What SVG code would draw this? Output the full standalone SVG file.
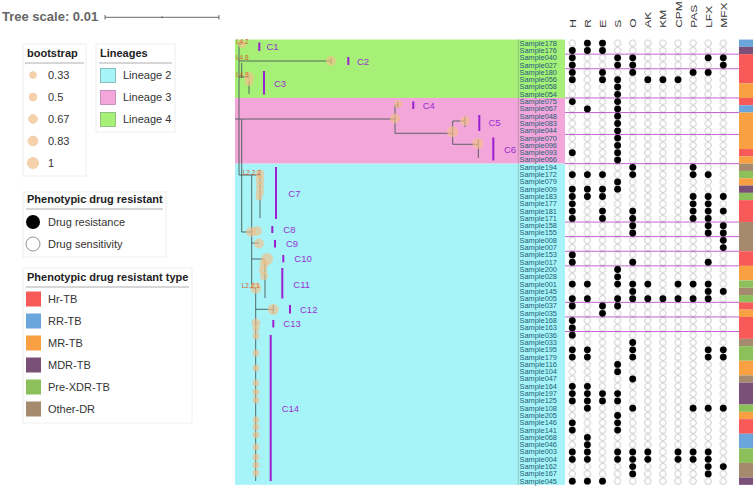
<svg xmlns="http://www.w3.org/2000/svg" xmlns:xlink="http://www.w3.org/1999/xlink" width="753" height="486" viewBox="0 0 753 486">
<style>
text{font-family:"Liberation Sans",Arial,sans-serif}
.lt{font-size:11px;font-weight:bold;fill:#222}
.li{font-size:11px;fill:#333}
.box{fill:#fff;stroke:#eeeeee;stroke-width:1}
.ul{stroke:#999;stroke-width:0.8}
.sl{font-size:6.5px;fill:#1e5f78;text-anchor:end}
.hd{font-size:12px;fill:#333}
.cl{font-size:9.5px;fill:#9a30d0}
.bar{stroke:#9b1fd1;stroke-width:2}
.bs{fill:#f3c089;opacity:0.65}
.ll{font-size:6.5px;fill:#d4602a}
.sep{stroke:#b03cc0;stroke-width:0.8}
</style>
<defs>
<circle id="d" r="3.4" fill="#000"/>
<pattern id="emp" patternUnits="userSpaceOnUse" x="564.75" y="39.55" width="15.1" height="7.3"><circle cx="7.55" cy="3.65" r="3.2" fill="#fff" stroke="#aaa" stroke-width="0.6"/></pattern>
</defs>
<rect width="753" height="486" fill="#fff"/>

<g id="tree-scale">
<text x="2" y="21" style="font-size:13px;font-weight:bold;fill:#666">Tree scale: 0.01</text>
<path d="M105,17.3 H219 M105,15 V19.6 M219,15 V19.6 M162,16.3 V18.3" stroke="#444" stroke-width="0.8" fill="none"/>
</g>

<g id="legend-bootstrap">
<rect class="box" x="23" y="44" width="63" height="132"/>
<text class="lt" x="27" y="57">bootstrap</text>
<line class="ul" x1="25" y1="63" x2="84" y2="63"/>
<g fill="#f5d2ac" stroke="#ebc59c" stroke-width="0.6">
<circle cx="33" cy="75" r="3.4"/><circle cx="33" cy="97" r="3.9"/><circle cx="33" cy="119" r="4.4"/><circle cx="33" cy="141" r="4.9"/><circle cx="33" cy="163" r="5.6"/>
</g>
<text class="li" x="48" y="79">0.33</text><text class="li" x="48" y="101">0.5</text><text class="li" x="48" y="123">0.67</text><text class="li" x="48" y="145">0.83</text><text class="li" x="48" y="167">1</text>
</g>

<g id="legend-lineages">
<rect class="box" x="96" y="44" width="79" height="88"/>
<text class="lt" x="100" y="57">Lineages</text>
<line class="ul" x1="99" y1="63" x2="172" y2="63"/>
<rect x="100.5" y="68.5" width="15" height="14" fill="#a6f4f8" stroke="#6aa" stroke-width="0.7"/>
<rect x="100.5" y="90.5" width="15" height="14" fill="#f2a6da" stroke="#a7a" stroke-width="0.7"/>
<rect x="100.5" y="112.5" width="15" height="14" fill="#a6f078" stroke="#7a6" stroke-width="0.7"/>
<text class="li" x="123" y="79">Lineage 2</text><text class="li" x="123" y="101">Lineage 3</text><text class="li" x="123" y="123">Lineage 4</text>
</g>

<g id="legend-phenotype">
<rect class="box" x="23" y="192" width="143" height="65"/>
<text class="lt" x="27" y="203">Phenotypic drug resistant</text>
<line class="ul" x1="26" y1="209" x2="163" y2="209"/>
<circle cx="33" cy="222" r="7" fill="#000"/>
<circle cx="33" cy="244" r="7" fill="#fff" stroke="#666" stroke-width="0.7"/>
<text class="li" x="48" y="226">Drug resistance</text><text class="li" x="48" y="248">Drug sensitivity</text>
</g>

<g id="legend-type">
<rect class="box" x="23" y="268" width="169" height="155"/>
<text class="lt" x="27" y="281">Phenotypic drug resistant type</text>
<line class="ul" x1="26" y1="287" x2="189" y2="287"/>
<rect x="26" y="291.5" width="15" height="15" fill="#f85a5a"/>
<rect x="26" y="313.5" width="15" height="15" fill="#6aa6dc"/>
<rect x="26" y="335.5" width="15" height="15" fill="#f9a043"/>
<rect x="26" y="357.5" width="15" height="15" fill="#7a5078"/>
<rect x="26" y="379.5" width="15" height="15" fill="#8cc05a"/>
<rect x="26" y="401.5" width="15" height="15" fill="#a58a6e"/>
<text class="li" x="48" y="303">Hr-TB</text><text class="li" x="48" y="325">RR-TB</text><text class="li" x="48" y="347">MR-TB</text><text class="li" x="48" y="369">MDR-TB</text><text class="li" x="48" y="391">Pre-XDR-TB</text><text class="li" x="48" y="413">Other-DR</text>
</g>

<g id="lineage-bands">
<rect x="235" y="39.55" width="330" height="58.4" fill="#a6f078"/>
<rect x="235" y="97.95" width="330" height="65.7" fill="#f2a6da"/>
<rect x="235" y="163.65" width="330" height="321.2" fill="#a6f4f8"/>
<line x1="518.3" y1="39.55" x2="518.3" y2="484.85" stroke="#557777" stroke-width="0.7" stroke-dasharray="1,1"/>
</g>

<g id="connectors" fill="none" stroke="#4a5a5a" stroke-width="0.9">
<path d="M239,44 V175 H251.7"/>
<path d="M239,44 H242"/>
<path d="M239,61 H331 M331,58 V64"/>
<path d="M241.7,63 V78"/>
<path d="M239,77 H249 V94"/>
<path d="M235,119 H395"/>
<path d="M395,105 V133.3 M395,105 H398 M398,102 V108"/>
<path d="M395,133.3 H452.7 M452.7,121 V144.3 M452.7,121 H465 M465,116 V127 M452.7,144.3 H478.3 M478.3,139 V158"/>
<path d="M241.7,119 V232 H252"/>
<path d="M251.7,175 V288 H255.7"/>
<path d="M251.7,175 H260 M260,173 V218"/>
<path d="M251.7,243 H259"/>
<path d="M251.7,259 H265 M265,260 V298"/>
<path d="M255.7,288 V481"/>
<path d="M255.7,309.3 H273.3 M273.3,305 V313.5"/>
<path d="M255.7,323 H257"/>
</g>

<g id="bootstrap-nodes">
<circle class="bs" cx="242" cy="44" r="4"/><circle class="bs" cx="331" cy="61" r="5"/><circle class="bs" cx="249" cy="77" r="5"/><circle class="bs" cx="249" cy="82" r="4"/>
<circle class="bs" cx="398" cy="104" r="4"/><circle class="bs" cx="395" cy="118.5" r="5"/><circle class="bs" cx="452.7" cy="131.7" r="5.5"/><circle class="bs" cx="465" cy="121" r="5"/><circle class="bs" cx="478" cy="143.5" r="5.5"/>
<circle class="bs" cx="260" cy="174" r="4.5"/><circle class="bs" cx="260" cy="180" r="4.5"/><circle class="bs" cx="260" cy="186" r="4"/><circle class="bs" cx="260" cy="192" r="4"/><circle class="bs" cx="259" cy="197" r="3.5"/>
<circle class="bs" cx="251" cy="232" r="5"/><circle class="bs" cx="257" cy="231" r="5"/><circle class="bs" cx="259" cy="243.5" r="5"/><circle class="bs" cx="267" cy="259" r="6"/><circle class="bs" cx="264" cy="264" r="4.5"/><circle class="bs" cx="263" cy="270" r="4"/><circle class="bs" cx="264" cy="276" r="4"/>
<circle class="bs" cx="255.7" cy="288" r="5.5"/><circle class="bs" cx="273.3" cy="309.3" r="5.5"/><circle class="bs" cx="256" cy="323" r="4.5"/><circle class="bs" cx="256" cy="329" r="3.5"/>
<circle class="bs" cx="256" cy="336" r="3.5"/><circle class="bs" cx="256" cy="353" r="3.5"/><circle class="bs" cx="256" cy="368" r="3.5"/><circle class="bs" cx="256" cy="383" r="3.5"/><circle class="bs" cx="256" cy="392" r="3.5"/><circle class="bs" cx="256" cy="400" r="3.5"/><circle class="bs" cx="256" cy="420" r="3.5"/><circle class="bs" cx="256" cy="427" r="3.5"/><circle class="bs" cx="256" cy="435" r="3.5"/><circle class="bs" cx="256" cy="447" r="3.5"/><circle class="bs" cx="256" cy="457" r="3.5"/><circle class="bs" cx="256" cy="465" r="3.5"/><circle class="bs" cx="256" cy="473" r="3.5"/>
</g>

<g id="lineage-labels">
<text class="ll" x="236" y="44">L4.2</text><text class="ll" x="236" y="59.7">L4.8</text><text class="ll" x="236" y="77">L4.9</text><text class="ll" x="242.7" y="175">L2.2.2</text><text class="ll" x="241.7" y="287.7">L2.2.1</text>
</g>

<g id="clade-C1"><line class="bar" x1="259.3" y1="42.5" x2="259.3" y2="51"/><text class="cl" x="266.5" y="50.2">C1</text></g>
<g id="clade-C2"><line class="bar" x1="348.3" y1="57" x2="348.3" y2="65"/><text class="cl" x="357" y="64.8">C2</text></g>
<g id="clade-C3"><line class="bar" x1="264" y1="71" x2="264" y2="94.5"/><text class="cl" x="274" y="86.5">C3</text></g>
<g id="clade-C4"><line class="bar" x1="413.3" y1="101.5" x2="413.3" y2="109"/><text class="cl" x="422.7" y="108.6">C4</text></g>
<g id="clade-C5"><line class="bar" x1="479.3" y1="115" x2="479.3" y2="131"/><text class="cl" x="488.5" y="126">C5</text></g>
<g id="clade-C6"><line class="bar" x1="493.3" y1="137.5" x2="493.3" y2="160.5"/><text class="cl" x="504" y="152.5">C6</text></g>
<g id="clade-C7"><line class="bar" x1="276" y1="167" x2="276" y2="219"/><text class="cl" x="288.3" y="196.5">C7</text></g>
<g id="clade-C8"><line class="bar" x1="272.3" y1="226" x2="272.3" y2="233"/><text class="cl" x="283.3" y="233">C8</text></g>
<g id="clade-C9"><line class="bar" x1="275" y1="240" x2="275" y2="247.5"/><text class="cl" x="286" y="247.3">C9</text></g>
<g id="clade-C10"><line class="bar" x1="283.3" y1="255" x2="283.3" y2="262.3"/><text class="cl" x="294.3" y="262">C10</text></g>
<g id="clade-C11"><line class="bar" x1="282.3" y1="268" x2="282.3" y2="298.5"/><text class="cl" x="293.3" y="287.5">C11</text></g>
<g id="clade-C12"><line class="bar" x1="290" y1="305" x2="290" y2="313.5"/><text class="cl" x="300" y="312.8">C12</text></g>
<g id="clade-C13"><line class="bar" x1="273.3" y1="320" x2="273.3" y2="327.5"/><text class="cl" x="283.3" y="327.4">C13</text></g>
<g id="clade-C14"><line class="bar" x1="270.7" y1="335" x2="270.7" y2="481"/><text class="cl" x="281.7" y="411.5">C14</text></g>

<g id="headers">
<text class="hd" transform="translate(575.8,27.8) rotate(-90) scale(1,0.82)">H</text>
<text class="hd" transform="translate(590.9,27.8) rotate(-90) scale(1,0.82)">R</text>
<text class="hd" transform="translate(606,27.8) rotate(-90) scale(1,0.82)">E</text>
<text class="hd" transform="translate(621.1,27.8) rotate(-90) scale(1,0.82)">S</text>
<text class="hd" transform="translate(636.2,27.8) rotate(-90) scale(1,0.82)">O</text>
<text class="hd" transform="translate(651.3,27.8) rotate(-90) scale(1,0.82)">AK</text>
<text class="hd" transform="translate(666.4,27.8) rotate(-90) scale(1,0.82)">KM</text>
<text class="hd" transform="translate(681.5,27.8) rotate(-90) scale(1,0.82)">CPM</text>
<text class="hd" transform="translate(696.6,27.8) rotate(-90) scale(1,0.82)">PAS</text>
<text class="hd" transform="translate(711.7,27.8) rotate(-90) scale(1,0.82)">LFX</text>
<text class="hd" transform="translate(726.8,27.8) rotate(-90) scale(1,0.82)">MFX</text>
</g>

<g id="dot-grid"><rect x="564.75" y="39.55" width="166.1" height="445.3" fill="url(#emp)"/></g>

<g id="separators">
<path class="sep" d="M565,54.15 H739 M565,68.75 H739 M565,97.95 H739 M565,112.55 H739 M565,134.45 H739 M565,163.65 H739 M565,222.05 H739 M565,236.65 H739 M565,251.25 H739 M565,265.85 H739 M565,302.35 H739 M565,316.95 H739 M565,331.55 H739"/>
</g>

<g id="type-strip">
<rect x="739" y="39.55" width="14" height="7.3" fill="#6aa6dc"/>
<rect x="739" y="46.85" width="14" height="7.3" fill="#7a5078"/>
<rect x="739" y="54.15" width="14" height="29.2" fill="#f85a5a"/>
<rect x="739" y="83.35" width="14" height="14.6" fill="#f9a043"/>
<rect x="739" y="97.95" width="14" height="7.3" fill="#f85a5a"/>
<rect x="739" y="105.25" width="14" height="7.3" fill="#6aa6dc"/>
<rect x="739" y="112.55" width="14" height="36.5" fill="#f9a043"/>
<rect x="739" y="149.05" width="14" height="7.3" fill="#f85a5a"/>
<rect x="739" y="156.35" width="14" height="7.3" fill="#f9a043"/>
<rect x="739" y="163.65" width="14" height="7.3" fill="#a58a6e"/>
<rect x="739" y="170.95" width="14" height="7.3" fill="#8cc05a"/>
<rect x="739" y="178.25" width="14" height="7.3" fill="#f9a043"/>
<rect x="739" y="185.55" width="14" height="7.3" fill="#7a5078"/>
<rect x="739" y="192.85" width="14" height="7.3" fill="#8cc05a"/>
<rect x="739" y="200.15" width="14" height="21.9" fill="#f85a5a"/>
<rect x="739" y="222.05" width="14" height="29.2" fill="#a58a6e"/>
<rect x="739" y="251.25" width="14" height="14.6" fill="#f85a5a"/>
<rect x="739" y="265.85" width="14" height="14.6" fill="#f9a043"/>
<rect x="739" y="280.45" width="14" height="7.3" fill="#8cc05a"/>
<rect x="739" y="287.75" width="14" height="7.3" fill="#a58a6e"/>
<rect x="739" y="295.05" width="14" height="7.3" fill="#8cc05a"/>
<rect x="739" y="302.35" width="14" height="7.3" fill="#f85a5a"/>
<rect x="739" y="309.65" width="14" height="7.3" fill="#f9a043"/>
<rect x="739" y="316.95" width="14" height="21.9" fill="#f85a5a"/>
<rect x="739" y="338.85" width="14" height="7.3" fill="#a58a6e"/>
<rect x="739" y="346.15" width="14" height="14.6" fill="#8cc05a"/>
<rect x="739" y="360.75" width="14" height="14.6" fill="#f9a043"/>
<rect x="739" y="375.35" width="14" height="7.3" fill="#a58a6e"/>
<rect x="739" y="382.65" width="14" height="21.9" fill="#7a5078"/>
<rect x="739" y="404.55" width="14" height="7.3" fill="#8cc05a"/>
<rect x="739" y="411.85" width="14" height="7.3" fill="#f9a043"/>
<rect x="739" y="419.15" width="14" height="14.6" fill="#f85a5a"/>
<rect x="739" y="433.75" width="14" height="14.6" fill="#6aa6dc"/>
<rect x="739" y="448.35" width="14" height="14.6" fill="#8cc05a"/>
<rect x="739" y="462.95" width="14" height="14.6" fill="#a58a6e"/>
<rect x="739" y="477.55" width="14" height="7.3" fill="#7a5078"/>
</g>

<g id="samples">
<g id="row-Sample178"><text class="sl" x="557" y="45.6" textLength="37.5" lengthAdjust="spacingAndGlyphs">Sample178</text><use href="#d" x="587.4" y="43.2"/><use href="#d" x="602.5" y="43.2"/></g>
<g id="row-Sample176"><text class="sl" x="557" y="52.9" textLength="37.5" lengthAdjust="spacingAndGlyphs">Sample176</text><use href="#d" x="572.3" y="50.5"/><use href="#d" x="587.4" y="50.5"/><use href="#d" x="602.5" y="50.5"/></g>
<g id="row-Sample040"><text class="sl" x="557" y="60.2" textLength="37.5" lengthAdjust="spacingAndGlyphs">Sample040</text><use href="#d" x="572.3" y="57.8"/><use href="#d" x="617.6" y="57.8"/><use href="#d" x="632.7" y="57.8"/><use href="#d" x="708.2" y="57.8"/><use href="#d" x="723.3" y="57.8"/></g>
<g id="row-Sample027"><text class="sl" x="557" y="67.5" textLength="37.5" lengthAdjust="spacingAndGlyphs">Sample027</text><use href="#d" x="572.3" y="65.1"/><use href="#d" x="617.6" y="65.1"/><use href="#d" x="632.7" y="65.1"/><use href="#d" x="723.3" y="65.1"/></g>
<g id="row-Sample180"><text class="sl" x="557" y="74.8" textLength="37.5" lengthAdjust="spacingAndGlyphs">Sample180</text><use href="#d" x="572.3" y="72.4"/><use href="#d" x="602.5" y="72.4"/><use href="#d" x="632.7" y="72.4"/><use href="#d" x="693.1" y="72.4"/><use href="#d" x="708.2" y="72.4"/></g>
<g id="row-Sample056"><text class="sl" x="557" y="82.1" textLength="37.5" lengthAdjust="spacingAndGlyphs">Sample056</text><use href="#d" x="572.3" y="79.7"/><use href="#d" x="602.5" y="79.7"/><use href="#d" x="617.6" y="79.7"/><use href="#d" x="647.8" y="79.7"/><use href="#d" x="662.9" y="79.7"/><use href="#d" x="678" y="79.7"/></g>
<g id="row-Sample058"><text class="sl" x="557" y="89.4" textLength="37.5" lengthAdjust="spacingAndGlyphs">Sample058</text><use href="#d" x="617.6" y="87"/></g>
<g id="row-Sample054"><text class="sl" x="557" y="96.7" textLength="37.5" lengthAdjust="spacingAndGlyphs">Sample054</text><use href="#d" x="617.6" y="94.3"/></g>
<g id="row-Sample075"><text class="sl" x="557" y="104" textLength="37.5" lengthAdjust="spacingAndGlyphs">Sample075</text><use href="#d" x="572.3" y="101.6"/><use href="#d" x="617.6" y="101.6"/></g>
<g id="row-Sample067"><text class="sl" x="557" y="111.3" textLength="37.5" lengthAdjust="spacingAndGlyphs">Sample067</text><use href="#d" x="587.4" y="108.9"/><use href="#d" x="617.6" y="108.9"/></g>
<g id="row-Sample048"><text class="sl" x="557" y="118.6" textLength="37.5" lengthAdjust="spacingAndGlyphs">Sample048</text><use href="#d" x="617.6" y="116.2"/></g>
<g id="row-Sample083"><text class="sl" x="557" y="125.9" textLength="37.5" lengthAdjust="spacingAndGlyphs">Sample083</text><use href="#d" x="617.6" y="123.5"/></g>
<g id="row-Sample044"><text class="sl" x="557" y="133.2" textLength="37.5" lengthAdjust="spacingAndGlyphs">Sample044</text><use href="#d" x="617.6" y="130.8"/></g>
<g id="row-Sample070"><text class="sl" x="557" y="140.5" textLength="37.5" lengthAdjust="spacingAndGlyphs">Sample070</text><use href="#d" x="617.6" y="138.1"/></g>
<g id="row-Sample096"><text class="sl" x="557" y="147.8" textLength="37.5" lengthAdjust="spacingAndGlyphs">Sample096</text><use href="#d" x="617.6" y="145.4"/></g>
<g id="row-Sample093"><text class="sl" x="557" y="155.1" textLength="37.5" lengthAdjust="spacingAndGlyphs">Sample093</text><use href="#d" x="572.3" y="152.7"/><use href="#d" x="617.6" y="152.7"/></g>
<g id="row-Sample066"><text class="sl" x="557" y="162.4" textLength="37.5" lengthAdjust="spacingAndGlyphs">Sample066</text><use href="#d" x="617.6" y="160"/></g>
<g id="row-Sample194"><text class="sl" x="557" y="169.7" textLength="37.5" lengthAdjust="spacingAndGlyphs">Sample194</text><use href="#d" x="632.7" y="167.3"/><use href="#d" x="693.1" y="167.3"/></g>
<g id="row-Sample172"><text class="sl" x="557" y="177" textLength="37.5" lengthAdjust="spacingAndGlyphs">Sample172</text><use href="#d" x="572.3" y="174.6"/><use href="#d" x="587.4" y="174.6"/><use href="#d" x="602.5" y="174.6"/><use href="#d" x="632.7" y="174.6"/><use href="#d" x="693.1" y="174.6"/><use href="#d" x="708.2" y="174.6"/></g>
<g id="row-Sample079"><text class="sl" x="557" y="184.3" textLength="37.5" lengthAdjust="spacingAndGlyphs">Sample079</text><use href="#d" x="617.6" y="181.9"/></g>
<g id="row-Sample009"><text class="sl" x="557" y="191.6" textLength="37.5" lengthAdjust="spacingAndGlyphs">Sample009</text><use href="#d" x="572.3" y="189.2"/><use href="#d" x="587.4" y="189.2"/><use href="#d" x="602.5" y="189.2"/><use href="#d" x="617.6" y="189.2"/></g>
<g id="row-Sample183"><text class="sl" x="557" y="198.9" textLength="37.5" lengthAdjust="spacingAndGlyphs">Sample183</text><use href="#d" x="572.3" y="196.5"/><use href="#d" x="587.4" y="196.5"/><use href="#d" x="602.5" y="196.5"/><use href="#d" x="693.1" y="196.5"/><use href="#d" x="708.2" y="196.5"/><use href="#d" x="723.3" y="196.5"/></g>
<g id="row-Sample177"><text class="sl" x="557" y="206.2" textLength="37.5" lengthAdjust="spacingAndGlyphs">Sample177</text><use href="#d" x="572.3" y="203.8"/><use href="#d" x="693.1" y="203.8"/><use href="#d" x="708.2" y="203.8"/></g>
<g id="row-Sample181"><text class="sl" x="557" y="213.5" textLength="37.5" lengthAdjust="spacingAndGlyphs">Sample181</text><use href="#d" x="572.3" y="211.1"/><use href="#d" x="602.5" y="211.1"/><use href="#d" x="632.7" y="211.1"/><use href="#d" x="693.1" y="211.1"/><use href="#d" x="708.2" y="211.1"/><use href="#d" x="723.3" y="211.1"/></g>
<g id="row-Sample171"><text class="sl" x="557" y="220.8" textLength="37.5" lengthAdjust="spacingAndGlyphs">Sample171</text><use href="#d" x="572.3" y="218.4"/><use href="#d" x="602.5" y="218.4"/><use href="#d" x="632.7" y="218.4"/><use href="#d" x="693.1" y="218.4"/><use href="#d" x="708.2" y="218.4"/></g>
<g id="row-Sample158"><text class="sl" x="557" y="228.1" textLength="37.5" lengthAdjust="spacingAndGlyphs">Sample158</text><use href="#d" x="632.7" y="225.7"/><use href="#d" x="708.2" y="225.7"/><use href="#d" x="723.3" y="225.7"/></g>
<g id="row-Sample155"><text class="sl" x="557" y="235.4" textLength="37.5" lengthAdjust="spacingAndGlyphs">Sample155</text><use href="#d" x="632.7" y="233"/><use href="#d" x="708.2" y="233"/><use href="#d" x="723.3" y="233"/></g>
<g id="row-Sample008"><text class="sl" x="557" y="242.7" textLength="37.5" lengthAdjust="spacingAndGlyphs">Sample008</text><use href="#d" x="723.3" y="240.3"/></g>
<g id="row-Sample007"><text class="sl" x="557" y="250" textLength="37.5" lengthAdjust="spacingAndGlyphs">Sample007</text><use href="#d" x="723.3" y="247.6"/></g>
<g id="row-Sample153"><text class="sl" x="557" y="257.3" textLength="37.5" lengthAdjust="spacingAndGlyphs">Sample153</text><use href="#d" x="572.3" y="254.9"/></g>
<g id="row-Sample017"><text class="sl" x="557" y="264.6" textLength="37.5" lengthAdjust="spacingAndGlyphs">Sample017</text><use href="#d" x="572.3" y="262.2"/><use href="#d" x="632.7" y="262.2"/><use href="#d" x="708.2" y="262.2"/></g>
<g id="row-Sample200"><text class="sl" x="557" y="271.9" textLength="37.5" lengthAdjust="spacingAndGlyphs">Sample200</text><use href="#d" x="617.6" y="269.5"/></g>
<g id="row-Sample028"><text class="sl" x="557" y="279.2" textLength="37.5" lengthAdjust="spacingAndGlyphs">Sample028</text><use href="#d" x="617.6" y="276.8"/></g>
<g id="row-Sample001"><text class="sl" x="557" y="286.5" textLength="37.5" lengthAdjust="spacingAndGlyphs">Sample001</text><use href="#d" x="572.3" y="284.1"/><use href="#d" x="587.4" y="284.1"/><use href="#d" x="617.6" y="284.1"/><use href="#d" x="632.7" y="284.1"/><use href="#d" x="647.8" y="284.1"/><use href="#d" x="678" y="284.1"/><use href="#d" x="693.1" y="284.1"/><use href="#d" x="708.2" y="284.1"/></g>
<g id="row-Sample145"><text class="sl" x="557" y="293.8" textLength="37.5" lengthAdjust="spacingAndGlyphs">Sample145</text><use href="#d" x="632.7" y="291.4"/><use href="#d" x="708.2" y="291.4"/><use href="#d" x="723.3" y="291.4"/></g>
<g id="row-Sample005"><text class="sl" x="557" y="301.1" textLength="37.5" lengthAdjust="spacingAndGlyphs">Sample005</text><use href="#d" x="572.3" y="298.7"/><use href="#d" x="587.4" y="298.7"/><use href="#d" x="617.6" y="298.7"/><use href="#d" x="632.7" y="298.7"/><use href="#d" x="647.8" y="298.7"/><use href="#d" x="662.9" y="298.7"/><use href="#d" x="678" y="298.7"/><use href="#d" x="693.1" y="298.7"/><use href="#d" x="708.2" y="298.7"/></g>
<g id="row-Sample037"><text class="sl" x="557" y="308.4" textLength="37.5" lengthAdjust="spacingAndGlyphs">Sample037</text><use href="#d" x="572.3" y="306"/><use href="#d" x="602.5" y="306"/><use href="#d" x="617.6" y="306"/></g>
<g id="row-Sample035"><text class="sl" x="557" y="315.7" textLength="37.5" lengthAdjust="spacingAndGlyphs">Sample035</text><use href="#d" x="602.5" y="313.3"/></g>
<g id="row-Sample168"><text class="sl" x="557" y="323" textLength="37.5" lengthAdjust="spacingAndGlyphs">Sample168</text><use href="#d" x="572.3" y="320.6"/></g>
<g id="row-Sample163"><text class="sl" x="557" y="330.3" textLength="37.5" lengthAdjust="spacingAndGlyphs">Sample163</text><use href="#d" x="572.3" y="327.9"/></g>
<g id="row-Sample036"><text class="sl" x="557" y="337.6" textLength="37.5" lengthAdjust="spacingAndGlyphs">Sample036</text><use href="#d" x="572.3" y="335.2"/></g>
<g id="row-Sample033"><text class="sl" x="557" y="344.9" textLength="37.5" lengthAdjust="spacingAndGlyphs">Sample033</text><use href="#d" x="632.7" y="342.5"/></g>
<g id="row-Sample195"><text class="sl" x="557" y="352.2" textLength="37.5" lengthAdjust="spacingAndGlyphs">Sample195</text><use href="#d" x="572.3" y="349.8"/><use href="#d" x="587.4" y="349.8"/><use href="#d" x="632.7" y="349.8"/><use href="#d" x="708.2" y="349.8"/><use href="#d" x="723.3" y="349.8"/></g>
<g id="row-Sample179"><text class="sl" x="557" y="359.5" textLength="37.5" lengthAdjust="spacingAndGlyphs">Sample179</text><use href="#d" x="572.3" y="357.1"/><use href="#d" x="587.4" y="357.1"/><use href="#d" x="632.7" y="357.1"/><use href="#d" x="708.2" y="357.1"/><use href="#d" x="723.3" y="357.1"/></g>
<g id="row-Sample116"><text class="sl" x="557" y="366.8" textLength="37.5" lengthAdjust="spacingAndGlyphs">Sample116</text><use href="#d" x="617.6" y="364.4"/></g>
<g id="row-Sample104"><text class="sl" x="557" y="374.1" textLength="37.5" lengthAdjust="spacingAndGlyphs">Sample104</text><use href="#d" x="617.6" y="371.7"/></g>
<g id="row-Sample047"><text class="sl" x="557" y="381.4" textLength="37.5" lengthAdjust="spacingAndGlyphs">Sample047</text><use href="#d" x="632.7" y="379"/></g>
<g id="row-Sample164"><text class="sl" x="557" y="388.7" textLength="37.5" lengthAdjust="spacingAndGlyphs">Sample164</text><use href="#d" x="572.3" y="386.3"/><use href="#d" x="587.4" y="386.3"/></g>
<g id="row-Sample197"><text class="sl" x="557" y="396" textLength="37.5" lengthAdjust="spacingAndGlyphs">Sample197</text><use href="#d" x="572.3" y="393.6"/><use href="#d" x="587.4" y="393.6"/><use href="#d" x="602.5" y="393.6"/><use href="#d" x="617.6" y="393.6"/></g>
<g id="row-Sample125"><text class="sl" x="557" y="403.3" textLength="37.5" lengthAdjust="spacingAndGlyphs">Sample125</text><use href="#d" x="572.3" y="400.9"/><use href="#d" x="587.4" y="400.9"/><use href="#d" x="602.5" y="400.9"/><use href="#d" x="617.6" y="400.9"/></g>
<g id="row-Sample108"><text class="sl" x="557" y="410.6" textLength="37.5" lengthAdjust="spacingAndGlyphs">Sample108</text><use href="#d" x="587.4" y="408.2"/><use href="#d" x="632.7" y="408.2"/><use href="#d" x="693.1" y="408.2"/><use href="#d" x="708.2" y="408.2"/><use href="#d" x="723.3" y="408.2"/></g>
<g id="row-Sample205"><text class="sl" x="557" y="417.9" textLength="37.5" lengthAdjust="spacingAndGlyphs">Sample205</text><use href="#d" x="617.6" y="415.5"/></g>
<g id="row-Sample146"><text class="sl" x="557" y="425.2" textLength="37.5" lengthAdjust="spacingAndGlyphs">Sample146</text><use href="#d" x="572.3" y="422.8"/><use href="#d" x="617.6" y="422.8"/></g>
<g id="row-Sample141"><text class="sl" x="557" y="432.5" textLength="37.5" lengthAdjust="spacingAndGlyphs">Sample141</text><use href="#d" x="572.3" y="430.1"/><use href="#d" x="617.6" y="430.1"/></g>
<g id="row-Sample068"><text class="sl" x="557" y="439.8" textLength="37.5" lengthAdjust="spacingAndGlyphs">Sample068</text><use href="#d" x="587.4" y="437.4"/></g>
<g id="row-Sample046"><text class="sl" x="557" y="447.1" textLength="37.5" lengthAdjust="spacingAndGlyphs">Sample046</text><use href="#d" x="587.4" y="444.7"/></g>
<g id="row-Sample003"><text class="sl" x="557" y="454.4" textLength="37.5" lengthAdjust="spacingAndGlyphs">Sample003</text><use href="#d" x="572.3" y="452"/><use href="#d" x="587.4" y="452"/><use href="#d" x="617.6" y="452"/><use href="#d" x="632.7" y="452"/><use href="#d" x="647.8" y="452"/><use href="#d" x="678" y="452"/><use href="#d" x="693.1" y="452"/><use href="#d" x="708.2" y="452"/></g>
<g id="row-Sample004"><text class="sl" x="557" y="461.7" textLength="37.5" lengthAdjust="spacingAndGlyphs">Sample004</text><use href="#d" x="572.3" y="459.3"/><use href="#d" x="587.4" y="459.3"/><use href="#d" x="617.6" y="459.3"/><use href="#d" x="632.7" y="459.3"/><use href="#d" x="647.8" y="459.3"/><use href="#d" x="678" y="459.3"/><use href="#d" x="693.1" y="459.3"/><use href="#d" x="708.2" y="459.3"/></g>
<g id="row-Sample162"><text class="sl" x="557" y="469" textLength="37.5" lengthAdjust="spacingAndGlyphs">Sample162</text><use href="#d" x="632.7" y="466.6"/><use href="#d" x="708.2" y="466.6"/><use href="#d" x="723.3" y="466.6"/></g>
<g id="row-Sample167"><text class="sl" x="557" y="476.3" textLength="37.5" lengthAdjust="spacingAndGlyphs">Sample167</text><use href="#d" x="632.7" y="473.9"/><use href="#d" x="708.2" y="473.9"/></g>
<g id="row-Sample045"><text class="sl" x="557" y="483.6" textLength="37.5" lengthAdjust="spacingAndGlyphs">Sample045</text><use href="#d" x="572.3" y="481.2"/><use href="#d" x="587.4" y="481.2"/><use href="#d" x="602.5" y="481.2"/></g>
</g>
</svg>
